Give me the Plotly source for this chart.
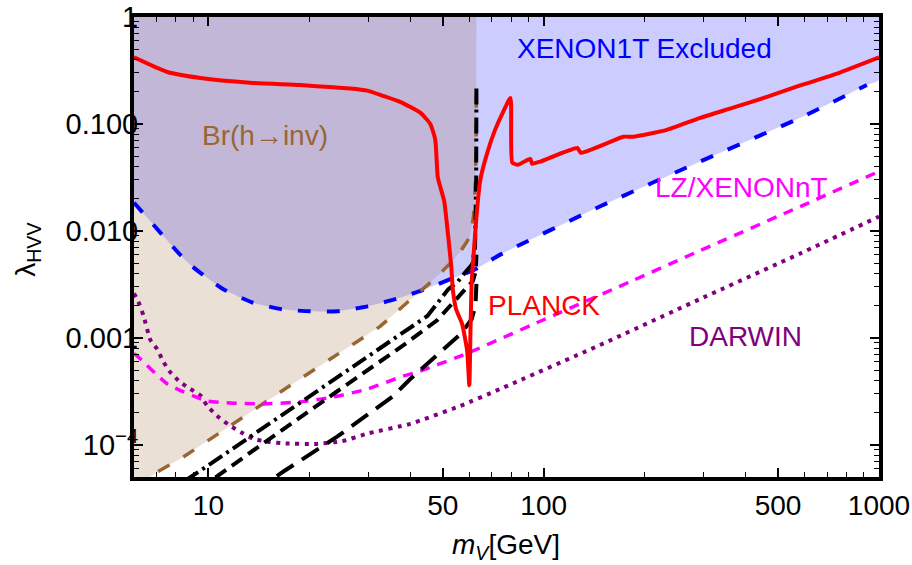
import numpy as np
import plotly.graph_objects as go

# ---------------- data ----------------
# XENON1T exclusion boundary (blue dashed)
xenon1t_m = [6.0, 6.14, 7.87, 8.66, 9.34, 11.08, 13.5, 16.6, 20.1, 24.2, 29.8, 36.1, 43.5,
             53.4, 61.6, 74.2, 147.0, 292.0, 582.0, 920.0, 1000.0]
xenon1t_l = [0.0183, 0.0169, 0.0070, 0.00508, 0.00419, 0.00285, 0.00215, 0.00185, 0.00177,
             0.00177, 0.00197, 0.00230, 0.00279, 0.00360, 0.00428, 0.0060, 0.0169, 0.0444,
             0.114, 0.231, 0.257]

# Br(h -> inv) bound (brown dashed)
brinv_m = [6.0, 7.05, 8.25, 11.6, 16.4, 23.1, 32.6, 41.4, 45.9, 49.1, 52.6, 56.4, 58.3,
           60.4, 61.8, 62.6, 62.9, 63.0]
brinv_l = [4.0e-5, 5.6e-5, 7.4e-5, 1.5e-4, 3.12e-4, 6.34e-4, 1.29e-3, 2.5e-3, 3.28e-3,
           4.0e-3, 4.97e-3, 6.43e-3, 7.47e-3, 9.0e-3, 0.014, 0.03, 0.08, 0.22]

# PLANCK relic density (red solid)
planck_m = [6.0, 7.55, 9.47, 13.3, 18.8, 23.6, 26.5, 29.8, 33.2, 37.3, 42.9, 45.9, 47.5,
            48.3, 49.3, 50.5, 51.9, 53.0, 53.6, 54.8, 57.1, 59.1, 60.0, 60.5, 61.0, 62.3,
            63.3, 64.7, 67.9, 71.6, 75.7, 79.6, 80.6, 83.9, 89.5, 91.3, 92.3, 97.7, 126.0,
            129.0, 173.0, 185.0, 233.0, 293.0, 367.0, 463.0, 582.0, 730.0, 1000.0]
planck_l = [0.42, 0.306, 0.269, 0.243, 0.231, 0.220, 0.215, 0.205, 0.183, 0.161, 0.127,
            0.100, 0.0711, 0.032, 0.025, 0.019, 0.0089, 0.0047, 0.0028, 0.00185, 0.00135,
            7.6e-4, 3.6e-4, 1.2e-3, 3.3e-3, 8.5e-3, 0.016, 0.030, 0.054, 0.088, 0.130,
            0.175, 0.0435, 0.0416, 0.0462, 0.047, 0.0425, 0.0445, 0.0596, 0.0538, 0.0759,
            0.076, 0.0881, 0.114, 0.142, 0.179, 0.229, 0.287, 0.42]

# LZ / XENONnT projection (magenta dashed)
lz_m = [6.0, 6.14, 7.55, 9.93, 14.3, 18.8, 23.6, 29.8, 38.1, 42.0, 56.4, 60.4, 97.6,
        185.0, 293.0, 582.0, 1000.0]
lz_l = [7.1e-4, 6.75e-4, 3.7e-4, 2.57e-4, 2.41e-4, 2.52e-4, 2.8e-4, 3.32e-4, 4.4e-4,
        4.79e-4, 6.75e-4, 7.36e-4, 1.43e-3, 3.45e-3, 6.56e-3, 0.0169, 0.036]

# DARWIN projection (purple dotted)
darwin_m = [6.0, 6.14, 6.41, 6.71, 7.03, 7.36, 7.70, 8.25, 8.84, 9.47, 9.91, 10.6, 11.6,
            12.5, 13.6, 15.0, 17.0, 21.0, 25.0, 30.0, 40.0, 56.4, 74.2, 147.0, 292.0,
            582.0, 1000.0]
darwin_l = [2.6e-3, 2.3e-3, 1.6e-3, 9.6e-4, 7.85e-4, 5.9e-4, 4.76e-4, 3.84e-4, 3.33e-4,
            2.89e-4, 2.32e-4, 1.87e-4, 1.51e-4, 1.31e-4, 1.14e-4, 1.07e-4, 1.03e-4,
            1.02e-4, 1.08e-4, 1.28e-4, 1.57e-4, 2.31e-4, 3.33e-4, 8.55e-4, 2.3e-3,
            6.15e-3, 0.0136]

# three black benchmark curves
blackA_m = [8.5, 9.47, 35.6, 45.0, 51.9, 55.5, 58.3, 61.2, 62.4, 62.9, 63.0]
blackA_l = [4.6e-5, 5.73e-5, 9.72e-4, 1.6e-3, 2.84e-3, 3.37e-3, 4.09e-3, 4.87e-3, 7.0e-3,
            0.03, 0.22]
blackB_m = [10.5, 11.08, 16.0, 24.0, 38.1, 48.1, 55.2, 58.3, 61.5, 62.7, 63.0]
blackB_l = [4.95e-5, 5.6e-5, 1.27e-4, 3.1e-4, 8.5e-4, 1.46e-3, 2.3e-3, 2.84e-3, 3.4e-3,
            4.2e-3, 6.0e-3]
blackC_m = [16.0, 16.7, 24.2, 35.6, 40.0, 49.1, 56.9, 61.0, 62.6, 63.0]
blackC_l = [5.1e-5, 5.6e-5, 1.19e-4, 2.86e-4, 4.12e-4, 7.36e-4, 1.11e-3, 1.5e-3, 2.0e-3,
            3.2e-3]

x_tick_vals = [10, 50, 100, 500, 1000]
x_tick_text = ["10", "50", "100", "500", "1000"]
x_minor_vals = [6, 7, 8, 9, 20, 30, 40, 60, 70, 80, 90, 200, 300, 400, 600, 700, 800, 900]
y_tick_vals = [1e-4, 1e-3, 1e-2, 1e-1, 1]
y_tick_text = ["10<sup>\u22124</sup>", "0.001", "0.010", "0.100", "1"]
y_minor_vals = [m * 10.0 ** e for e in range(-5, 0) for m in range(2, 10)]

labels = [
    ("XENON1T Excluded", 200.0, 0.51, "#0000FF"),
    ("Br(h\u2192inv)", 14.8, 0.0774, "#996633"),
    ("LZ/XENONnT", 389.0, 0.0254, "#FF00FF"),
    ("PLANCK", 100.0, 0.00202, "#FF0000"),
    ("DARWIN", 399.0, 0.00102, "#800080"),
]

FONT = "Liberation Sans, Arial, sans-serif"
L, R, T, B = 134, 32.5, 17, 87.5
W, H = 912, 565
PW, PH = W - L - R, H - T - B

fig = go.Figure()

# excluded regions
fig.add_trace(go.Scatter(
    x=xenon1t_m + [1000.0, 6.0], y=xenon1t_l + [1.0, 1.0],
    fill="toself", fillcolor="rgba(0,0,255,0.2)", mode="lines",
    line=dict(width=0, shape="spline", smoothing=0.5), hoverinfo="skip", showlegend=False))
fig.add_trace(go.Scatter(
    x=[6.0] + brinv_m + [brinv_m[-1], 6.0], y=[1e-6] + brinv_l + [1.0, 1.0],
    fill="toself", fillcolor="rgba(153,102,51,0.2)", mode="lines",
    line=dict(width=0), hoverinfo="skip", showlegend=False))

def curve(xs, ys, color, width, dash, smooth=0.5):
    line = dict(color=color, width=width, dash=dash)
    if smooth:
        line.update(shape="spline", smoothing=smooth)
    fig.add_trace(go.Scatter(x=xs, y=ys, mode="lines", line=line,
                             hoverinfo="skip", showlegend=False))

curve(xenon1t_m[:-1], xenon1t_l[:-1], "#0000FF", 4, "13px,16px")
curve(brinv_m, brinv_l, "#996633", 3.5, "13px,16px", 0.3)
curve(darwin_m, darwin_l, "#800080", 4, "4px,5.5px")
curve(lz_m, lz_l, "#FF00FF", 3.5, "10px,8px")
curve(blackC_m, blackC_l, "#000000", 4, "20px,10px", 0)
curve(blackB_m, blackB_l, "#000000", 4, "13px,7px", 0)
curve(blackA_m, blackA_l, "#000000", 4, "16px,5px,3px,5px", 0)
curve(planck_m, planck_l, "#FF0000", 4, "solid", 0.5)

for txt, xv, yv, col in labels:
    fig.add_annotation(x=np.log10(xv), y=np.log10(yv), xref="x", yref="y", text=txt,
                       xanchor="center", yanchor="middle", showarrow=False,
                       font=dict(family=FONT, size=28, color=col))

# axis titles (positioned in pixels relative to the plot frame)
fig.add_annotation(x=(506 - L) / PW, y=(H - B - 547) / PH, xref="paper", yref="paper",
                   xanchor="center", yanchor="middle",
                   text="<i>m</i><sub><i>V</i></sub>[GeV]", showarrow=False,
                   font=dict(family=FONT, size=28, color="black"))
fig.add_annotation(x=(28 - L) / PW, y=(H - B - 250) / PH, xref="paper", yref="paper",
                   xanchor="center", yanchor="middle",
                   text="\u03bb<sub>HVV</sub>", textangle=-90, showarrow=False,
                   font=dict(family=FONT, size=28, color="black"))

axis_common = dict(showgrid=False, zeroline=False, showline=True, linecolor="black",
                   linewidth=4, mirror="allticks", ticks="inside", ticklen=9,
                   tickwidth=1.5, tickcolor="black", automargin=False)

fig.update_xaxes(type="log", range=[np.log10(6.0), 3.0], tickvals=x_tick_vals,
                 ticktext=x_tick_text, tickfont=dict(family=FONT, size=28, color="black"),
                 minor=dict(tickvals=x_minor_vals, ticks="inside", ticklen=5,
                            tickwidth=1.2, tickcolor="black"),
                 **axis_common)
fig.update_yaxes(type="log", range=[np.log10(5.0e-5), 0.0], tickvals=y_tick_vals,
                 ticktext=y_tick_text, ticklabelstandoff=-14,
                 tickfont=dict(family=FONT, size=29, color="black"),
                 minor=dict(tickvals=y_minor_vals, ticks="inside", ticklen=5,
                            tickwidth=1.2, tickcolor="black"),
                 **axis_common)

fig.update_layout(width=W, height=H, margin=dict(l=L, r=R, t=T, b=B, autoexpand=False),
                  plot_bgcolor="white", paper_bgcolor="white",
                  font=dict(family=FONT, color="black"))

fig.write_html("out.html", config={"displayModeBar": False},
               post_script="document.body.style.margin='0px';")
